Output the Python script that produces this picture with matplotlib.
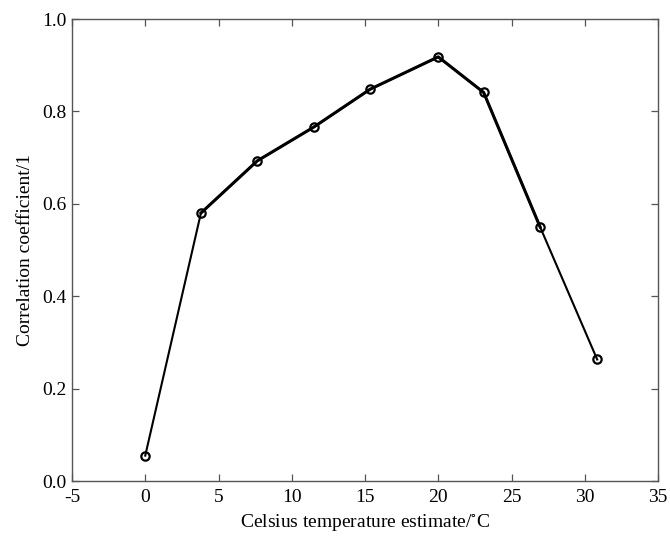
import matplotlib
matplotlib.use('Agg')
import matplotlib.pyplot as plt
import numpy as np

# values
temperature = [0.0, 3.8, 7.65, 11.5, 15.35, 20.0, 23.1, 26.95, 30.85]
correlation = [0.055, 0.580, 0.693, 0.766, 0.848, 0.918, 0.841, 0.550, 0.263]
xticks = [-5, 0, 5, 10, 15, 20, 25, 30, 35]
yticks = [0.0, 0.2, 0.4, 0.6, 0.8, 1.0]

plt.rcParams['font.family'] = ['Liberation Serif', 'DejaVu Serif']
plt.rcParams['mathtext.fontset'] = 'stix'
plt.rcParams['axes.unicode_minus'] = False

fig = plt.figure(figsize=(6.7, 5.38), dpi=100)
ax = fig.add_axes([72 / 670, 57 / 538, 586 / 670, 462 / 538])

# 主线
ax.plot(temperature, correlation, color='black', lw=1.5, marker='o',
        markersize=6, markerfacecolor='none', markeredgewidth=1.6)
# 中间几段在原图里更粗
ax.plot(temperature[1:8], correlation[1:8], color='black', lw=2.2)

ax.set_xlim(-5, 35)
ax.set_ylim(0, 1.0)
ax.set_xticks(xticks)
ax.set_yticks(yticks)
ax.set_yticklabels([f'{v:.1f}' for v in yticks])

for s in ax.spines.values():
    s.set_color('#555555')
    s.set_linewidth(1.0)
ax.tick_params(direction='in', top=True, right=True, length=5, width=0.9,
               color='#555555', labelsize=14)
ax.tick_params(axis='x', pad=6)
ax.tick_params(axis='y', pad=4)

ax.set_xlabel('Celsius temperature estimate/$^{\\circ}$C', fontsize=14, labelpad=4)
ax.set_ylabel('Correlation coefficient/1', fontsize=14, labelpad=6)

fig.savefig('out.png', dpi=100)
